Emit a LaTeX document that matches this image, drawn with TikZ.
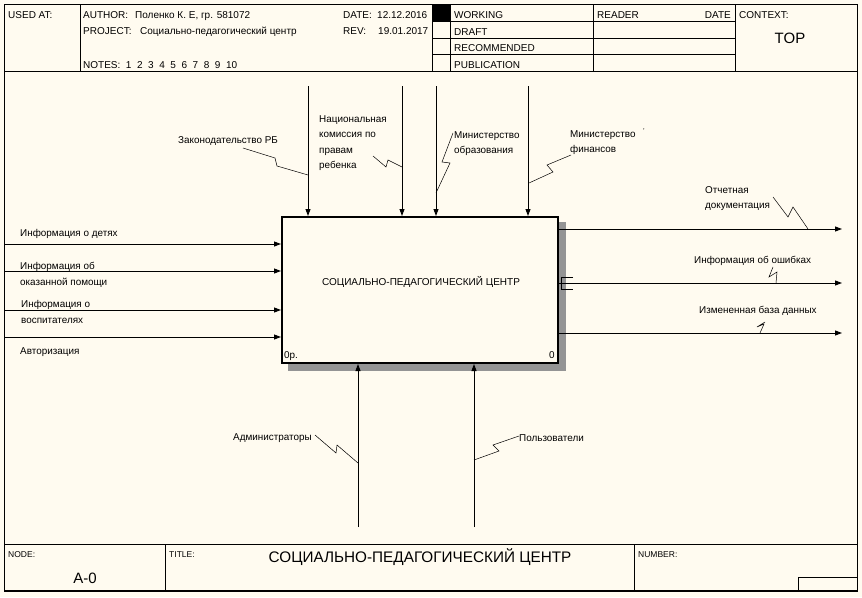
\documentclass[tikz,border=0pt]{standalone}
\usepackage{fontspec}
\setmainfont{Liberation Sans}
\usetikzlibrary{arrows.meta}
\definecolor{paper}{RGB}{255,251,240}
\begin{document}
\begin{tikzpicture}[x=1pt,y=-1pt,
  frame/.style={line width=0.8pt},
  lbl/.style={anchor=base west,inner sep=0pt,align=left,font=\fontsize{9.9}{15.5}\selectfont},
  hdr/.style={anchor=base west,inner sep=0pt,font=\fontsize{10}{12}\selectfont},
  small/.style={anchor=base west,inner sep=0pt,font=\fontsize{8.5}{10}\selectfont},
  arr/.style={line width=0.9pt,-{Triangle[length=7pt,width=5pt]}},
  zig/.style={line width=0.5pt},
  shade/.style={fill=black!42},
]
\useasboundingbox (0,0) rectangle (862,597);
\fill[paper] (0,0) rectangle (862,597);

% ---- outer frame
\draw[frame] (4,4) rectangle (857,591);
\draw[line width=2pt] (4,591) -- (857,591);

% ---- header block
\draw[frame] (4,71) -- (857,71);
\draw[frame] (80,4) -- (80,71);
\draw[frame] (432,4) -- (432,71);
\draw[frame] (450,4) -- (450,71);
\draw[frame] (593,4) -- (593,71);
\draw[frame] (735,4) -- (735,71);
\foreach \y in {21,38,54} \draw[frame] (432,\y) -- (735,\y);
\fill (432,4) rectangle (450,21);

\node[hdr] (usedat) at (8,19) {USED AT:};
\node[hdr] (author) at (83,19) {AUTHOR:};
\node[hdr] (authorv) at (135,19) {Поленко К. Е, гр. 581072};
\node[hdr] (project) at (83,34) {PROJECT:};
\node[hdr] (projectv) at (140,34) {Социально-педагогический центр};
\node[hdr] (notes) at (83,68) {NOTES:\ \ 1\ \ 2\ \ 3\ \ 4\ \ 5\ \ 6\ \ 7\ \ 8\ \ 9\ \ 10};
\node[hdr] (date) at (343,19) {DATE:};
\node[hdr] (datev) at (377,19) {12.12.2016};
\node[hdr] (rev) at (343,34) {REV:};
\node[hdr] (revv) at (378,34) {19.01.2017};
\node[hdr] (working) at (454,18) {WORKING};
\node[hdr] (draft) at (454,35) {DRAFT};
\node[hdr] (recomm) at (454,51) {RECOMMENDED};
\node[hdr] (public) at (454,68) {PUBLICATION};
\node[hdr] (reader) at (597,18) {READER};
\node[hdr,anchor=base east] (rdate) at (731,18) {DATE};
\node[hdr] (context) at (739,18) {CONTEXT:};
\node[inner sep=0pt,font=\fontsize{15}{18}\selectfont] (top) at (790,38) {TOP};

% ---- footer block
\draw[frame] (4,544) -- (857,544);
\draw[frame] (165,544) -- (165,591);
\draw[frame] (634,544) -- (634,591);
\draw[frame] (798,591) -- (798,577) -- (857,577);
\node[small] (nodelbl) at (8,557) {NODE:};
\node[small] (titlelbl) at (169,557) {TITLE:};
\node[small] (numberlbl) at (638,557) {NUMBER:};
\node[inner sep=0pt,font=\fontsize{15}{17}\selectfont] (nodenum) at (85,578) {A-0};
\node[inner sep=0pt,font=\fontsize{15.3}{17}\selectfont] (title) at (420,557) {СОЦИАЛЬНО-ПЕДАГОГИЧЕСКИЙ ЦЕНТР};

% ---- activity box with its shadow
\fill[shade] (558,222) rectangle (566,371);
\fill[shade] (288,363) rectangle (558,371);
\node[draw,line width=2pt,fill=paper,minimum width=276pt,minimum height=146pt,
      anchor=north west,inner sep=0pt] (box) at (281,216) {};
\node[inner sep=0pt,font=\fontsize{10}{12}\selectfont] (boxtitle) at (421,282) {СОЦИАЛЬНО-ПЕДАГОГИЧЕСКИЙ ЦЕНТР};
\node[lbl] (boxcost) at (284,358) {0р.};
\node[lbl] (boxnum) at (549,358) {0};

% ---- inputs
\coordinate (i1) at (4,244);
\coordinate (i2) at (4,271);
\coordinate (i3) at (4,310);
\coordinate (i4) at (4,337);
\foreach \c in {i1,i2,i3,i4} \draw[arr] (\c) -- (\c -| box.west);
% multi-line labels sit on the baseline of their last line
\node[lbl] (li1) at (20,236) {Информация о детях};
\node[lbl] (li2) at (20,285) {Информация об\\оказанной помощи};
\node[lbl] (li3) at (21,323) {Информация о\\воспитателях};
\node[lbl] (li4) at (20,354) {Авторизация};

% ---- controls
\coordinate (c1) at (308,86);
\coordinate (c2) at (402,86);
\coordinate (c3) at (436,86);
\coordinate (c4) at (528,86);
\foreach \c in {c1,c2,c3,c4} \draw[arr] (\c) -- (\c |- box.north);
\node[lbl] (lc1) at (178,143) {Законодательство РБ};
\node[lbl] (lc2) at (319,168.5) {Национальная\\комиссия по\\правам\\ребенка};
\node[lbl] (lc3) at (454,153.5) {Министерство\\образования};
\node[lbl] (lc4) at (570,152.5) {Министерство\\финансов};
\node[inner sep=0pt,font=\fontsize{7}{7}\selectfont] (tick) at (644,131) {’};
\draw[zig] (243,148) -- (275,158) -- (277,166) -- (308,175);
\draw[zig] (373,156) -- (386,167) -- (388,160) -- (402,167);
\draw[zig] (453,133) -- (442,162) -- (450,163) -- (436,193);
\draw[zig] (571,155) -- (547,165) -- (553,172) -- (529,183);

% ---- outputs
\coordinate (o1) at (842,229);
\coordinate (o2) at (842,283);
\coordinate (o3) at (842,333);
\foreach \c in {o1,o2,o3} \draw[arr] (\c -| box.east) -- (\c);
\node[lbl] (lo1) at (705,208.5) {Отчетная\\документация};
\node[lbl] (lo2) at (694,263) {Информация об ошибках};
\node[lbl] (lo3) at (699,313) {Измененная база данных};
\draw[zig] (773,197) -- (788,217) -- (793,207) -- (808,229);
\draw[zig] (773,267) -- (769,277) -- (777,272) -- (776,283);
\draw[zig] (765,322) -- (757,327) -- (764,324) -- (760,333);
\draw[line width=0.6pt] (573,277) -- (561,277) -- (561,289) -- (573,289);

% ---- mechanisms
\coordinate (m1) at (358,527);
\coordinate (m2) at (474,527);
\foreach \c in {m1,m2} \draw[arr] (\c) -- (\c |- box.south);
\node[lbl] (lm1) at (233,440) {Администраторы};
\node[lbl] (lm2) at (519,441) {Пользователи};
\draw[zig] (315,435) -- (336,453) -- (337,445) -- (358,463);
\draw[zig] (519,436) -- (493,445) -- (499,451) -- (474,460);
\end{tikzpicture}
\end{document}
